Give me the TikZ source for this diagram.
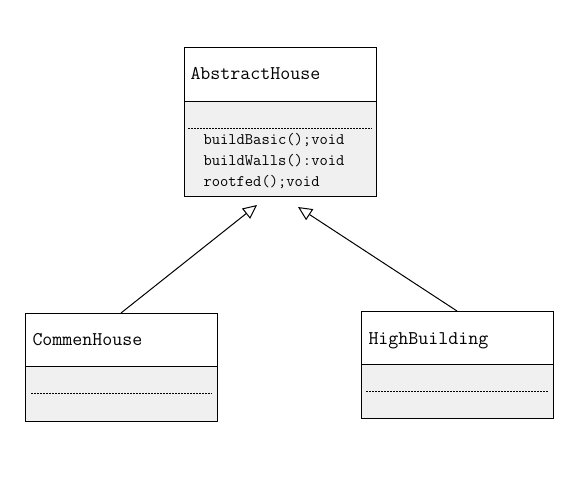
\documentclass[tikz,border=0pt]{standalone}
\usepackage{fontspec}
\usetikzlibrary{arrows.meta,positioning}
\definecolor{grisclase}{HTML}{F0F0F0}

\begin{document}
\begin{tikzpicture}[x=1pt,y=-1pt,line width=1pt,
    caja/.style={draw, fill=white, minimum width=192pt, inner sep=0pt, outer sep=0pt, anchor=north west},
    cuerpo/.style={draw, fill=grisclase, minimum width=192pt, inner sep=0pt, outer sep=0pt},
    nombre/.style={anchor=base west, inner sep=0pt, font=\ttfamily\fontsize{19.4}{20}\selectfont},
    metodo/.style={anchor=base west, inner sep=0pt, font=\ttfamily\fontsize{16.1}{18}\selectfont},
    puntos/.style={line width=1pt, dash pattern=on 2pt off 1pt},
    hereda/.style={-{Triangle[open,length=14pt,width=13pt]}}]
    \useasboundingbox (0,0) rectangle (582,477);

    % Paso 1: Clase abstracta con sus tres métodos
    \node[caja, minimum height=54pt] (abs) at (184,47) {};
    \node[nombre] (abs-n) at (190,79) {AbstractHouse};
    \node[cuerpo, below=0pt of abs, minimum height=95pt] (abs-c) {};
    \draw[puntos] ([xshift=4pt,yshift=-27pt]abs-c.north west) -- ([xshift=-4pt,yshift=-27pt]abs-c.north east);
    \foreach \m [count=\i] in {buildBasic();void, buildWalls():void, rootfed();void}
        \node[metodo] (abs-m\i) at (203,123+21*\i) {\m};

    % Paso 2: Clase CommenHouse (izquierda)
    \node[caja, minimum height=53pt] (com) at (25,313) {};
    \node[nombre] (com-n) at (32,345) {CommenHouse};
    \node[cuerpo, below=0pt of com, minimum height=55pt] (com-c) {};
    \draw[puntos] ([xshift=6pt,yshift=-27pt]com-c.north west) -- ([xshift=-5pt,yshift=-27pt]com-c.north east);

    % Paso 3: Clase HighBuilding (derecha)
    \node[caja, minimum height=53pt] (alt) at (361,311) {};
    \node[nombre] (alt-n) at (368,344) {HighBuilding};
    \node[cuerpo, below=0pt of alt, minimum height=54pt] (alt-c) {};
    \draw[puntos] ([xshift=5pt,yshift=-27pt]alt-c.north west) -- ([xshift=-5pt,yshift=-27pt]alt-c.north east);

    % Paso 4: Flechas de herencia hacia la clase abstracta
    \coordinate (punta1) at (257,205);
    \coordinate (punta2) at (298,207);
    \draw[hereda] (com.north) -- (punta1);
    \draw[hereda] (alt.north) -- (punta2);
\end{tikzpicture}
\end{document}
